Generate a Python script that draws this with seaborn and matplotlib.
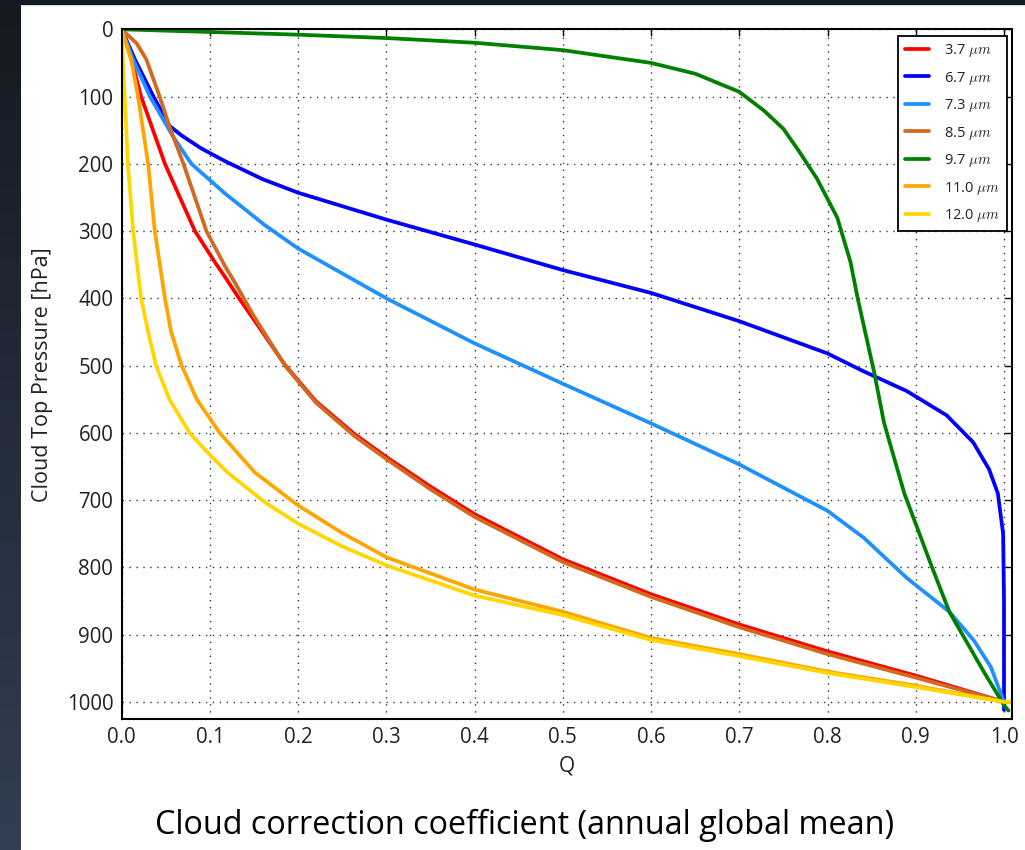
import numpy as np
import pandas as pd
import matplotlib
matplotlib.use("Agg")
import matplotlib.pyplot as plt
from matplotlib.patches import Rectangle
import seaborn as sns

# ---------------- data ----------------
bands = ["3.7", "6.7", "7.3", "8.5", "9.7", "11.0", "12.0"]
colors = ["#FF0000", "#0000FF", "#1E90FF", "#D2691E", "#008000", "#FFA500", "#FFD700"]

q_37 = [0, 0.01, 0.022, 0.049, 0.083, 0.106, 0.117, 0.133, 0.15, 0.185, 0.22, 0.264, 0.3, 0.35, 0.4, 0.5, 0.6, 0.7, 0.8, 0.9, 1.0]
p_37 = [0, 40, 100, 200, 300, 347, 368, 400, 432, 499, 553, 602, 636, 680, 721, 788, 840, 885, 925, 961, 1000]

q_67 = [0, 0.015, 0.036, 0.0545, 0.068, 0.09, 0.117, 0.16, 0.2, 0.3, 0.4, 0.5, 0.6, 0.7, 0.8, 0.84, 0.89, 0.935, 0.965, 0.983, 0.993, 0.999, 1.0, 1.0]
p_67 = [0, 45, 100, 144, 158, 177, 196, 223, 243, 283, 320, 358, 392, 434, 482, 508, 538, 574, 614, 654, 690, 750, 850, 1012]

q_73 = [0, 0.013, 0.032, 0.058, 0.079, 0.117, 0.162, 0.2, 0.3, 0.4, 0.5, 0.6, 0.7, 0.8, 0.841, 0.89, 0.938, 0.966, 0.985, 1.0]
p_73 = [0, 45, 100, 159, 200, 244, 291, 326, 400, 467, 527, 586, 647, 716, 756, 816, 866, 909, 948, 1000]

q_85 = [0, 0.017, 0.028, 0.043, 0.054, 0.070, 0.096, 0.117, 0.128, 0.15, 0.185, 0.22, 0.264, 0.3, 0.35, 0.4, 0.5, 0.6, 0.7, 0.8, 0.9, 1.0]
p_85 = [0, 21, 45, 100, 144, 200, 300, 352, 376, 427, 500, 555, 605, 639, 684, 725, 792, 844, 889, 929, 964, 1000]

q_97 = [0, 0.1, 0.2, 0.3, 0.4, 0.5, 0.6, 0.65, 0.7, 0.728, 0.75, 0.766, 0.788, 0.811, 0.826, 0.834, 0.853, 0.864, 0.887, 0.917, 0.938, 0.977, 1.0, 1.005]
p_97 = [0, 4, 8, 13, 20, 31, 50, 66, 93, 121, 148, 178, 222, 280, 346, 399, 511, 585, 690, 795, 866, 955, 1005, 1013]

q_110 = [0, 0.011, 0.0185, 0.030, 0.0375, 0.049, 0.056, 0.068, 0.085, 0.111, 0.151, 0.2, 0.25, 0.3, 0.4, 0.5, 0.6, 0.7, 0.8, 0.9, 1.0, 1.01]
p_110 = [0, 46, 100, 200, 300, 400, 450, 500, 550, 600, 659, 708, 749, 785, 833, 866, 905, 929, 955, 976, 1000, 1000]

q_120 = [0, 0.0015, 0.0034, 0.007, 0.013, 0.022, 0.030, 0.039, 0.054, 0.077, 0.1, 0.12, 0.162, 0.2, 0.25, 0.3, 0.4, 0.5, 0.6, 0.7, 0.8, 0.9, 1.0, 1.01]
p_120 = [0, 50, 100, 200, 300, 400, 450, 500, 550, 600, 633, 659, 703, 735, 769, 797, 842, 871, 908, 932, 957, 978, 1000, 1000]

series_q = [q_37, q_67, q_73, q_85, q_97, q_110, q_120]
series_p = [p_37, p_67, p_73, p_85, p_97, p_110, p_120]

x_ticks = [0.0, 0.1, 0.2, 0.3, 0.4, 0.5, 0.6, 0.7, 0.8, 0.9, 1.0]
y_ticks = [0, 100, 200, 300, 400, 500, 600, 700, 800, 900, 1000]

rows = []
for b, qs, ps in zip(bands, series_q, series_p):
    for q, p in zip(qs, ps):
        rows.append({"band": b, "Q": q, "P": p})
df = pd.DataFrame(rows)

# ---------------- style ----------------
sns.set_style("white")
plt.rcParams["font.family"] = ["Open Sans", "DejaVu Sans"]
plt.rcParams["mathtext.fontset"] = "cm"

fig = plt.figure(figsize=(10.25, 8.5), dpi=100)
fig.patch.set_facecolor("white")

# dark left strip (gradient) and top band
strip = fig.add_axes([0, 0, 21 / 1025, 1])
top_c = np.array([0x15, 0x1a, 0x21]) / 255
bot_c = np.array([0x32, 0x3e, 0x52]) / 255
t = np.linspace(0, 1, 256)[:, None]
grad = (top_c[None, :] * (1 - t) + bot_c[None, :] * t)[:, None, :]
strip.imshow(grad, aspect="auto", extent=[0, 1, 0, 1])
strip.set_axis_off()
fig.patches.append(Rectangle((0, 846 / 850), 1, 4 / 850, transform=fig.transFigure,
                             color="#141a20", zorder=0))

ax = fig.add_axes([121.7 / 1025, 1 - 719 / 850, (1012.3 - 121.7) / 1025, (719 - 29.3) / 850])

sns.lineplot(data=df, x="Q", y="P", hue="band", hue_order=bands, palette=colors,
             sort=False, estimator=None, units="band", linewidth=2.7, legend=False, ax=ax)
for ln in ax.get_lines():
    ln.set_solid_joinstyle("round")

ax.set_xlim(0, 1.0094)
ax.set_ylim(1025.5, 0)
ax.set_xticks(x_ticks)
ax.set_xticklabels([f"{v:.1f}" for v in x_ticks])
ax.set_yticks(y_ticks)
ax.set_yticklabels([str(v) for v in y_ticks])
ax.tick_params(direction="in", length=5, width=1, top=True, right=True,
               labelsize=14.8, colors="black", labelcolor="#222222", pad=6)
ax.grid(True, linestyle=(0, (1, 4)), color="black", linewidth=1.0, alpha=0.8)
for s in ax.spines.values():
    s.set_color("black")
    s.set_linewidth(1.5)
ax.set_xlabel("Q", fontsize=15, color="#222222", labelpad=5)
ax.set_ylabel("Cloud Top Pressure [hPa]", fontsize=15.5, color="#222222", labelpad=10)

handles = ax.get_lines()[:len(bands)]
leg = ax.legend(handles, [f"{b} $\\mu m$" for b in bands], loc="upper right",
                bbox_to_anchor=(0.9935, 0.991), borderaxespad=0, fontsize=10.5,
                frameon=True, fancybox=False, edgecolor="black", framealpha=1,
                handlelength=1.7, handletextpad=1.0, labelspacing=0.72,
                borderpad=0.45)
leg.get_frame().set_linewidth(1.3)
for t_ in leg.get_texts():
    t_.set_color("#222222")

fig.text(524.5 / 1025, 1 - 825 / 850, "Cloud correction coefficient (annual global mean)",
         ha="center", va="center", fontsize=23.3, color="black")

fig.savefig("out.png", dpi=100)
